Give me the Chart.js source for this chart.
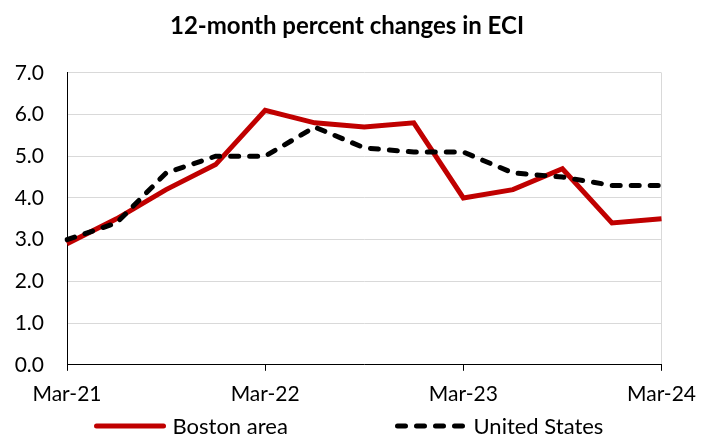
<!DOCTYPE html>
<html lang="en">
<head>
<meta charset="UTF-8">
<title>12-month percent changes in ECI</title>
<script src="https://cdn.jsdelivr.net/npm/chart.js"></script>
<style>
  body { margin: 0; background: #fff; }
</style>
</head>
<body>
<canvas id="eciChart" width="707" height="435"></canvas>
<script>
// quarterly points, Mar-21 .. Mar-24
const categories = ['Mar-21','Jun-21','Sep-21','Dec-21','Mar-22','Jun-22','Sep-22','Dec-22','Mar-23','Jun-23','Sep-23','Dec-23','Mar-24'];
const bostonArea = [2.9, 3.5, 4.2, 4.8, 6.1, 5.8, 5.7, 5.8, 4.0, 4.2, 4.7, 3.4, 3.5];
const unitedStates = [3.0, 3.4, 4.6, 5.0, 5.0, 5.7, 5.2, 5.1, 5.1, 4.6, 4.5, 4.3, 4.3];
const yMin = 0, yMax = 7, yStep = 1;

const FONT = 'Lato';
const lastIdx = categories.length - 1;

// built-in legend wraps when spread this wide, so draw it by hand
const legendPos = [96.5, 397.5];
const bottomLegend = {
  id: 'bottomLegend',
  afterDraw(chart) {
    const ctx = chart.ctx;
    const y = 426;
    chart.data.datasets.forEach((ds, i) => {
      const x = legendPos[i];
      ctx.save();
      ctx.strokeStyle = ds.borderColor;
      ctx.lineWidth = ds.borderWidth;
      ctx.lineCap = 'round';
      ctx.setLineDash(ds.borderDash || []);
      ctx.beginPath();
      ctx.moveTo(x, y);
      ctx.lineTo(x + 67, y);
      ctx.stroke();
      ctx.setLineDash([]);
      ctx.fillStyle = '#000';
      ctx.font = '22px ' + FONT;
      ctx.textBaseline = 'alphabetic';
      ctx.fillText(ds.label, x + 76, y + 7.5);
      ctx.restore();
    });
  }
};

new Chart(document.getElementById('eciChart'), {
  type: 'line',
  data: {
    labels: categories,
    datasets: [{
      label: 'Boston area',
      data: bostonArea,
      borderColor: '#C00000',
      backgroundColor: '#C00000',
      borderWidth: 5,
      pointRadius: 0,
      tension: 0,
      order: 1
    }, {
      label: 'United States',
      data: unitedStates,
      borderColor: '#000',
      backgroundColor: '#000',
      borderWidth: 5,
      borderDash: [8, 11],
      borderCapStyle: 'round',
      pointRadius: 0,
      tension: 0,
      order: 0
    }]
  },
  options: {
    responsive: false,
    animation: false,
    layout: { padding: { left: 0, right: 13, top: 0, bottom: 17 } },
    plugins: {
      title: {
        display: true,
        text: '12-month percent changes in ECI',
        color: '#000',
        font: { family: FONT, size: 24, weight: 'bold' },
        padding: { top: 12, bottom: 32 }
      },
      legend: { display: false },
      tooltip: { enabled: false }
    },
    scales: {
      x: {
        offset: false,
        border: { color: '#000', width: 1 },
        grid: {
          color: ctx => ctx.index === lastIdx ? '#d9d9d9' : 'transparent',
          tickColor: ctx => ctx.index % 4 === 0 ? '#000' : 'transparent',
          tickLength: 6
        },
        ticks: {
          autoSkip: false,
          maxRotation: 0,
          color: '#000',
          font: { family: FONT, size: 21 },
          padding: 11,
          callback: (v, i) => i % 4 === 0 ? categories[i] : ''
        }
      },
      y: {
        min: yMin,
        max: yMax,
        afterFit: s => { s.width = 67; },
        border: { color: '#000', width: 1 },
        grid: {
          color: '#d9d9d9',
          drawTicks: false
        },
        ticks: {
          stepSize: yStep,
          autoSkip: false,
          color: '#000',
          font: { family: FONT, size: 21 },
          padding: 23,
          callback: v => v.toFixed(1)
        }
      }
    }
  },
  plugins: [bottomLegend]
});
</script>
</body>
</html>
